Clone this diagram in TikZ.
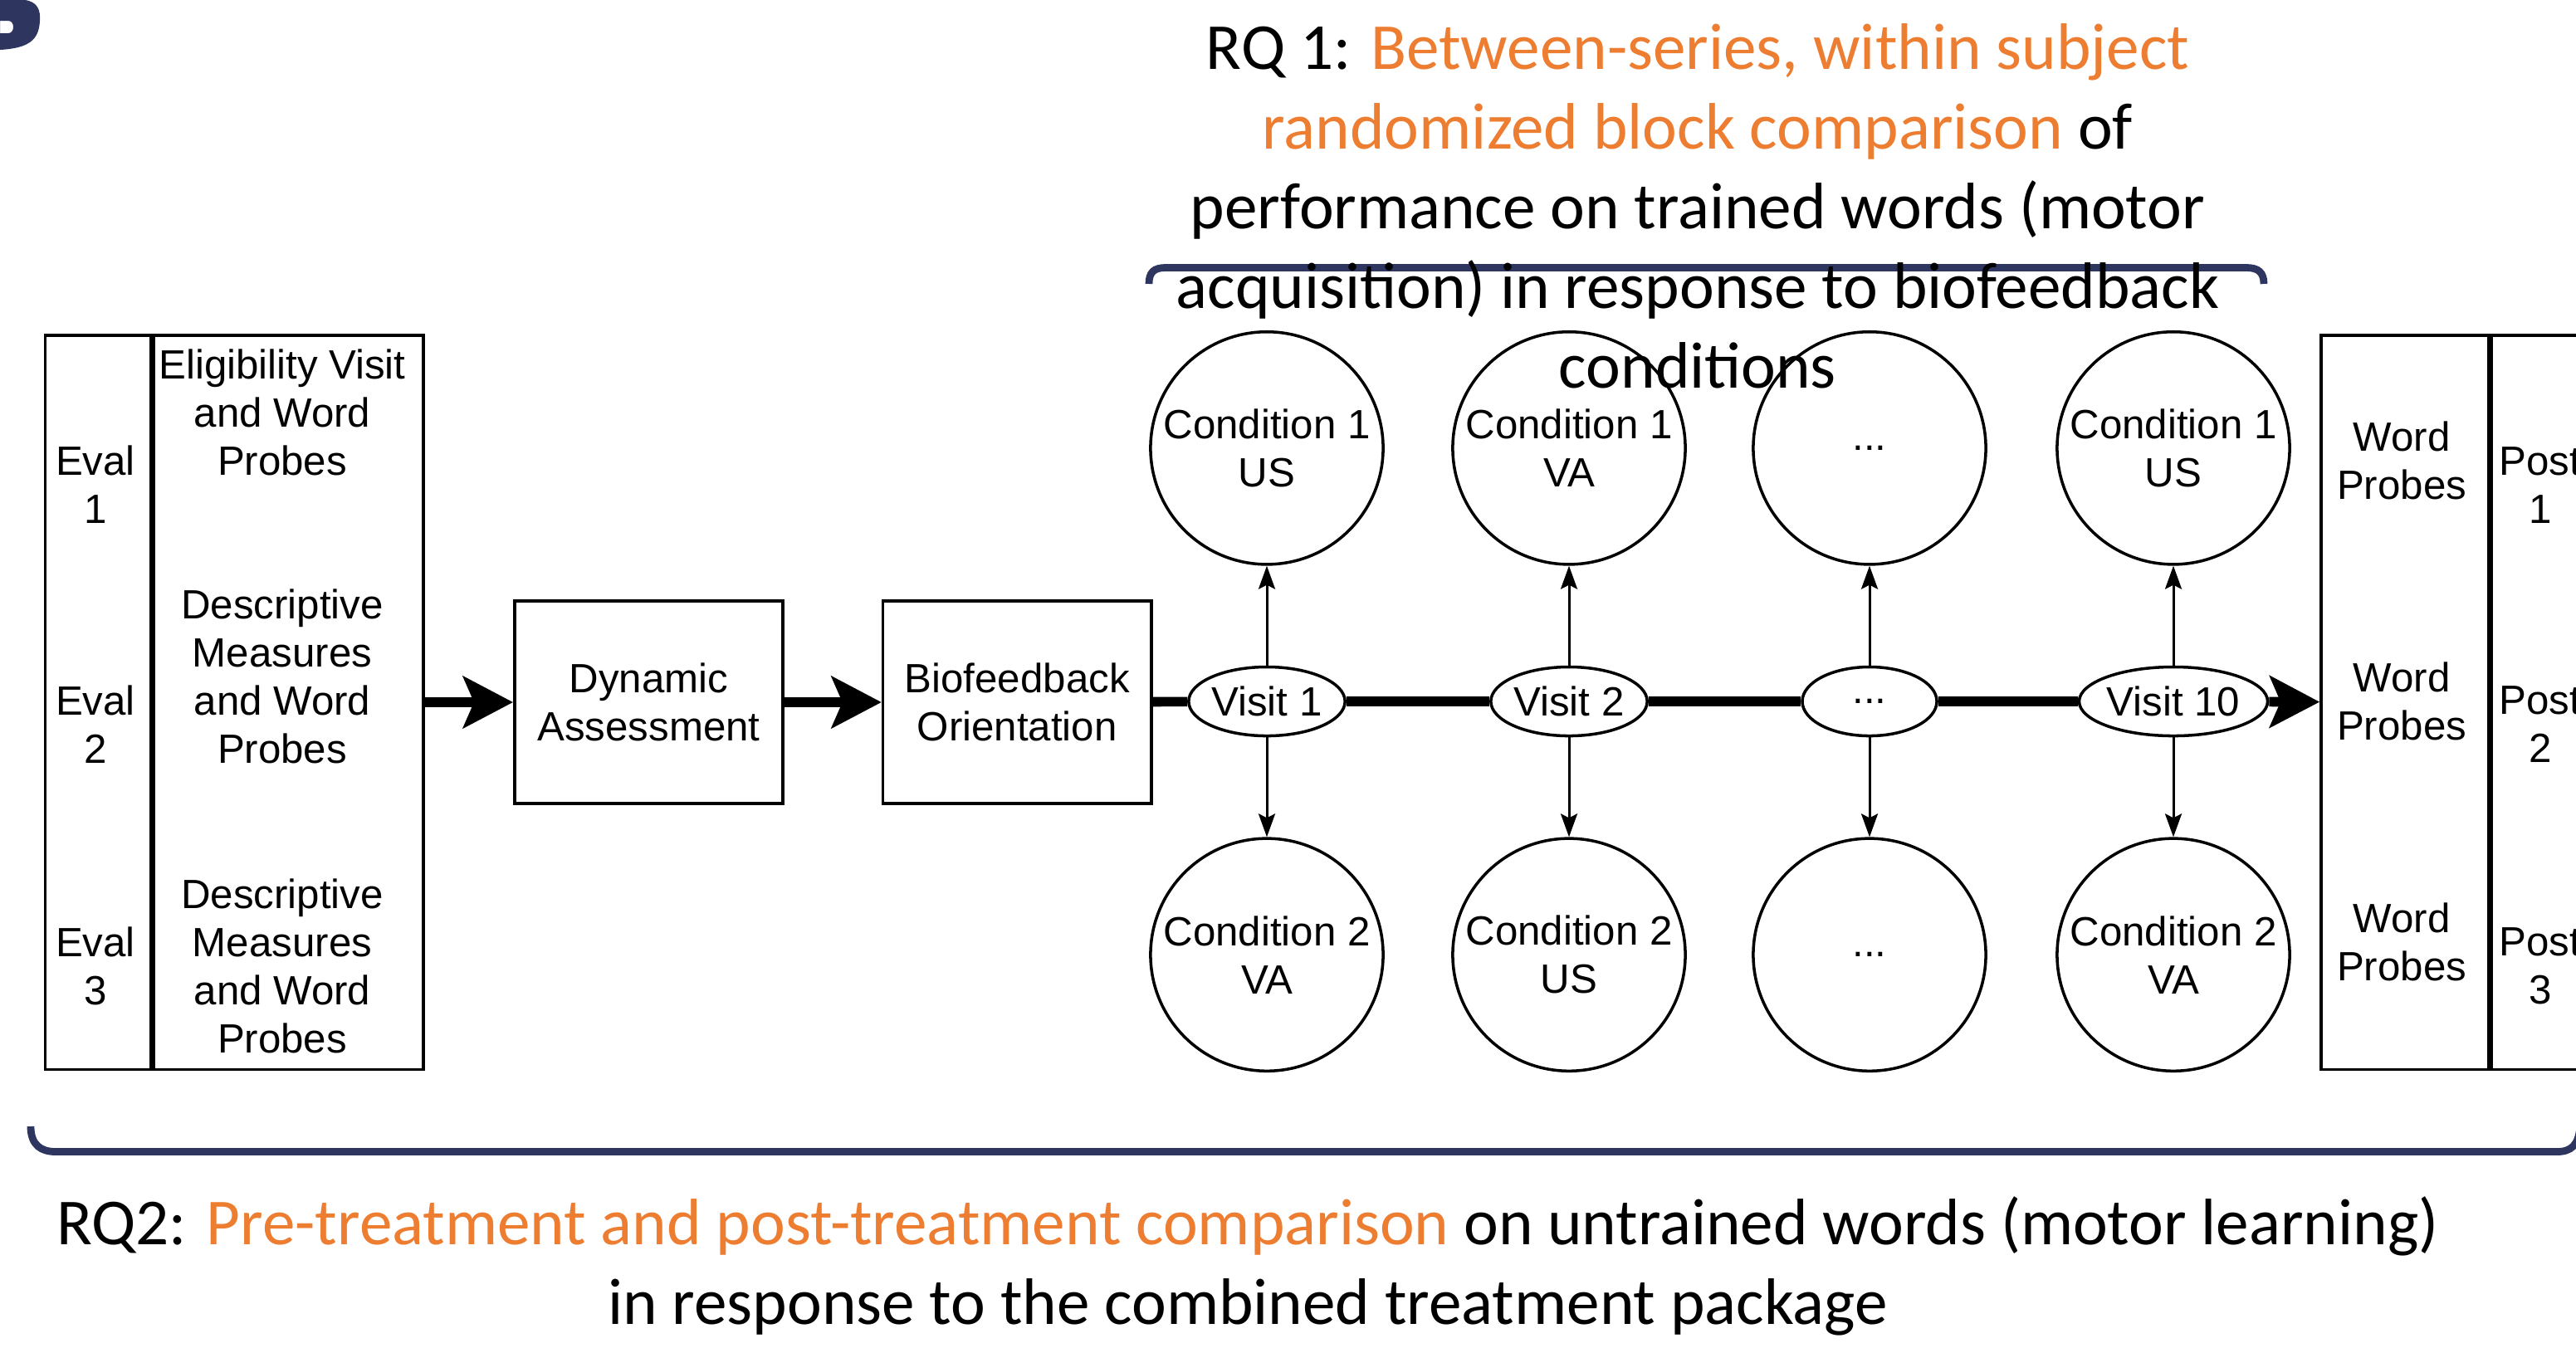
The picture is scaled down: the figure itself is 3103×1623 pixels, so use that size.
\documentclass[tikz,border=0pt]{standalone}
\usepackage{fontspec}
\setmainfont{Carlito}
\newfontfamily\boxfont{Liberation Sans}
\usetikzlibrary{arrows.meta, positioning, shapes.geometric}
\definecolor{rqorange}{RGB}{237,125,49}
\definecolor{slideblue}{RGB}{46,54,96}
\newcommand{\Boxsize}{\boxfont\fontsize{14}{16.5}\selectfont}
\newcommand{\Hi}[1]{\textcolor{rqorange}{#1}}
\tikzset{
    cell/.style={draw, line width=1pt, rectangle, minimum height=8.84cm, inner sep=0pt},
    celltext/.style={font=\Boxsize, align=center, inner sep=0pt},
    stage/.style={draw, line width=1pt, rectangle, minimum width=3.23cm, minimum height=2.44cm, font=\Boxsize, align=center},
    cond/.style={draw, line width=1pt, circle, minimum size=2.8cm, inner sep=0pt, font=\Boxsize, align=center},
    visit/.style={draw, line width=1pt, ellipse, fill=white, minimum width=1.62cm, minimum height=0.83cm, inner sep=0pt, font=\Boxsize},
    flow/.style={line width=3.3pt},
    bigarrow/.style={line width=3.3pt, -{Stealth[length=0.6cm, width=0.62cm, inset=0.13cm]}},
    smallarrow/.style={line width=0.85pt, -{Stealth[length=0.28cm, width=0.2cm, inset=0.05cm]}},
    brace/.style={draw=slideblue, line width=2.5pt},
    rqtext/.style={font=\fontsize{22.5}{27.3}\selectfont, align=center},
}

\begin{document}
\begin{tikzpicture}[x=0.01cm, y=-0.01cm]
    \useasboundingbox (0,0) rectangle (3103,1623);
    \clip (0,0) rectangle (3103,1623);

    % corner of the slide logo
    \fill[slideblue, even odd rule] (0,0) -- (30,0) .. controls (45,2) and (49,12) .. (48,25)
        .. controls (47,48) and (35,58) .. (0,60) -- cycle
        (0,25) -- (10,25) .. controls (18,25) and (18,40) .. (10,40) -- (0,40) -- cycle;

    % braces
    \draw[brace] (1384,342) .. controls (1384,328) and (1390,322.5) .. (1404,322.5)
        -- (2706,322.5) .. controls (2720,322.5) and (2727,328) .. (2727,342);
    \draw[brace] (37,1357) .. controls (37,1380) and (50,1387.5) .. (67,1387.5)
        -- (3080,1387.5) .. controls (3097,1387.5) and (3106,1380) .. (3108,1357);

    % pre-treatment evaluations
    \node[cell, minimum width=1.27cm] (evcol) at (118,846) {};
    \node[cell, minimum width=3.25cm, right=0pt of evcol] (prcol) {};
    \node[celltext] (ev1) at (115,584) {Eval\\1};
    \node[celltext] (ev2) at (115,873) {Eval\\2};
    \node[celltext] (ev3) at (115,1164) {Eval\\3};
    \node[celltext] (pr1) at (340,497) {Eligibility Visit\\and Word\\Probes};
    \node[celltext] (pr2) at (340,815) {Descriptive\\Measures\\and Word\\Probes};
    \node[celltext] (pr3) at (340,1164) {Descriptive\\Measures\\and Word\\Probes};

    \node[stage, right=1.06cm of prcol] (da) {Dynamic\\Assessment};
    \node[stage, right=1.17cm of da] (bo) {Biofeedback\\Orientation};

    % treatment visits
    \node[visit] (v1) at (1526,845) {Visit 1};
    \node[visit] (v2) at (1890,845) {Visit 2};
    \node[visit] (v3) at (2252,845) {...};
    \node[visit] (v10) at (2618,845) {Visit 10};

    \node[cond, above=1.2cm of v1] (c1a) {Condition 1\\US};
    \node[cond, above=1.2cm of v2] (c2a) {Condition 1\\VA};
    \node[cond, above=1.2cm of v3] (c3a) {...};
    \node[cond, above=1.2cm of v10] (c10a) {Condition 1\\US};
    \node[cond, below=1.2cm of v1] (c1b) {Condition 2\\VA};
    \node[cond, below=1.2cm of v2] (c2b) {Condition 2\\US};
    \node[cond, below=1.2cm of v3] (c3b) {...};
    \node[cond, below=1.2cm of v10] (c10b) {Condition 2\\VA};

    % post-treatment
    \node[cell, minimum width=2.02cm] (wpcol) at (2897,846) {};
    \node[cell, minimum width=1.25cm, right=0pt of wpcol] (pocol) {};
    \node[celltext] (wp1) at (2893,555) {Word\\Probes};
    \node[celltext] (wp2) at (2893,845) {Word\\Probes};
    \node[celltext] (wp3) at (2893,1135) {Word\\Probes};
    \node[celltext] (po1) at (3060,585) {Post\\1};
    \node[celltext] (po2) at (3060,873) {Post\\2};
    \node[celltext] (po3) at (3060,1164) {Post\\3};

    \draw[bigarrow] (prcol) -- (da);
    \draw[bigarrow] (da) -- (bo);
    \draw[flow] (bo) -- (v1);
    \draw[flow] (v1) -- (v2);
    \draw[flow] (v2) -- (v3);
    \draw[flow] (v3) -- (v10);
    \draw[bigarrow] (v10) -- (wpcol);

    \foreach \v in {1,2,3,10} {
        \draw[smallarrow] (v\v) -- (c\v a);
        \draw[smallarrow] (v\v) -- (c\v b);
    }

    % research questions
    \node[rqtext] (rq1) at (2045,248) {RQ 1: \Hi{Between-series, within subject}\\
        \Hi{randomized block comparison} of\\
        performance on trained words (motor\\
        acquisition) in response to biofeedback\\
        conditions};
    \node[rqtext] (rq2) at (1503,1525) {RQ2: \Hi{Pre-treatment and post-treatment comparison} on untrained words (motor learning)\\
        in response to the combined treatment package};
\end{tikzpicture}
\end{document}
